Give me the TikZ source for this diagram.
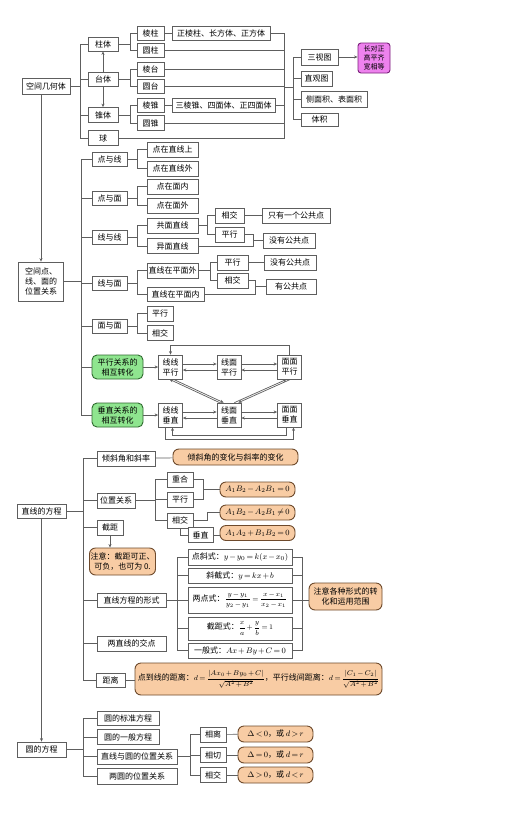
\documentclass[tikz,border=0pt]{standalone}
\usepackage{fontspec}
\newfontfamily\cjk{Noto Sans CJK SC}
\usetikzlibrary{arrows.meta,calc}
\definecolor{lncol}{HTML}{5E5E5E}
\definecolor{orfill}{HTML}{F8CCA4}
\definecolor{ordraw}{HTML}{6E4A2C}
\definecolor{grfill}{HTML}{8FE58F}
\definecolor{grdraw}{HTML}{2F6A2F}
\definecolor{mgfill}{HTML}{EE82EE}
\definecolor{mgdraw}{HTML}{7A207A}
\newcommand\tightmath{\medmuskip=2mu\thickmuskip=3mu\relax}
\tikzset{
 bx/.style={draw=lncol, fill=white, line width=0.7pt, inner sep=1pt, font=\cjk\fontsize{8}{10}\selectfont, align=center, execute at begin node=\tightmath},
 orb/.style={bx, draw=ordraw, fill=orfill, rounded corners=6pt, line width=0.9pt},
 grb/.style={bx, draw=grdraw, fill=grfill, rounded corners=5pt, line width=0.9pt},
 mgb/.style={bx, draw=mgdraw, fill=mgfill, rounded corners=3pt, line width=0.9pt, font=\cjk\fontsize{7}{8.8}\selectfont},
 conn/.style={draw=lncol, line width=0.7pt},
 arr/.style={conn, -{Stealth[length=3.5pt,width=3pt]}},
}
\newcommand\B[6]{\node[#1, minimum width=#4pt, minimum height=#5pt] (#2) at (#3) {#6};}
\newcommand\smallmath{\fontsize{7}{8}\selectfont\tightmath}
\begin{document}
\begin{tikzpicture}[x=1pt,y=-1pt]
\useasboundingbox[fill=white] (0,0) rectangle (509,833);
% ---------- part 1
\B{bx}{g0}{46,86}{48}{16}{空间几何体}
\B{bx}{zt}{103,44}{30}{14}{柱体}
\B{bx}{tt}{103,79}{30}{14}{台体}
\B{bx}{zh}{103,115}{30}{15}{锥体}
\B{bx}{qiu}{103,138}{30}{15}{球}
\B{bx}{lz}{150.5,33}{27}{14}{棱柱}
\B{bx}{yz}{150.5,50.5}{27}{14}{圆柱}
\B{bx}{lt}{150.5,69}{27}{14}{棱台}
\B{bx}{yt}{150.5,86.5}{27}{14}{圆台}
\B{bx}{lzh}{150.5,105}{27}{14}{棱锥}
\B{bx}{yzh}{150.5,123}{27}{15}{圆锥}
\B{bx}{lzx}{221,33}{98}{14}{正棱柱、长方体、正方体}
\B{bx}{lzhx}{223.5,105}{103}{14}{三棱锥、四面体、正四面体}
\B{bx}{sst}{319.5,57}{37}{16}{三视图}
\B{bx}{zgt}{316.5,78.5}{31}{15}{直观图}
\B{bx}{cmj}{334,99}{66}{16}{侧面积、表面积}
\B{bx}{tj}{319.5,119.5}{37}{13}{体积}
\B{mgb}{mg}{374,58}{32}{30}{长对正\\高平齐\\宽相等}
% ---------- part 2
\B{bx}{kj}{41,281.5}{45}{39}{空间点、\\线、面的\\位置关系}
\B{bx}{dyx}{109.5,159.5}{35}{14}{点与线}
\B{bx}{dym}{109.5,198.5}{35}{14}{点与面}
\B{bx}{xyx}{109.5,237}{35}{14}{线与线}
\B{bx}{xym}{109.5,283.5}{35}{14}{线与面}
\B{bx}{mym}{109.5,326}{35}{14}{面与面}
\B{grb}{pxg}{117.5,367}{51}{24}{平行关系的\\相互转化}
\B{grb}{czg}{117.5,415}{51}{24}{垂直关系的\\相互转化}
\B{bx}{a1}{172.5,149.5}{51}{15}{点在直线上}
\B{bx}{a2}{172.5,168.5}{51}{15}{点在直线外}
\B{bx}{a3}{172.5,186.5}{51}{15}{点在面内}
\B{bx}{a4}{172.5,205.5}{51}{15}{点在面外}
\B{bx}{gm}{172.5,225.5}{51}{15}{共面直线}
\B{bx}{ym}{172.5,246}{51}{15}{异面直线}
\B{bx}{xj1}{229.5,215.5}{29}{15}{相交}
\B{bx}{px1}{229.5,234.5}{29}{15}{平行}
\B{bx}{b1}{296,215.5}{68}{15}{只有一个公共点}
\B{bx}{b2}{289,240.5}{52}{15}{没有公共点}
\B{bx}{wai}{172.5,270.5}{51}{15}{直线在平面外}
\B{bx}{nei}{175.5,294}{57}{14}{直线在平面内}
\B{bx}{px2}{232.5,262.5}{31}{15}{平行}
\B{bx}{xj2}{232.5,280.5}{31}{15}{相交}
\B{bx}{b3}{290,262.5}{52}{15}{没有公共点}
\B{bx}{b4}{291,286.5}{50}{15}{有公共点}
\B{bx}{px5}{160,313.5}{26}{15}{平行}
\B{bx}{xj5}{160,333}{26}{15}{相交}
\B{bx}{xxp}{170.5,367}{24}{24}{线线\\平行}
\B{bx}{xmp}{229,367}{24}{24}{线面\\平行}
\B{bx}{mmp}{289.5,367}{24}{24}{面面\\平行}
\B{bx}{xxc}{170.5,415}{24}{24}{线线\\垂直}
\B{bx}{xmc}{229,415}{24}{24}{线面\\垂直}
\B{bx}{mmc}{289.5,415}{24}{24}{面面\\垂直}
% ---------- part 3
\B{bx}{zf}{41.5,511.5}{49}{14}{直线的方程}
\B{bx}{qxj}{126,458.5}{58}{15}{倾斜角和斜率}
\B{orb}{o1}{235.5,457}{125}{16}{倾斜角的变化与斜率的变化}
\B{bx}{wz}{116,500.5}{38}{15}{位置关系}
\B{bx}{jj}{110,527.5}{26}{15}{截距}
\B{orb}{o2}{122.5,561.5}{61}{27}{注意：截距可正、\\可负，也可为 0.}
\B{bx}{chh}{180,479.5}{26}{15}{重合}
\B{bx}{px3}{180,499.5}{26}{15}{平行}
\B{bx}{xj3}{180,520.5}{26}{15}{相交}
\B{bx}{cz}{200.5,535}{25}{15}{垂直}
\B{orb}{o3}{257.5,489.5}{75}{15}{$A_1B_2-A_2B_1=0$}
\B{orb}{o4}{257.5,512.5}{75}{15}{$A_1B_2-A_2B_1\neq0$}
\B{orb}{o5}{257.5,533}{75}{15}{$A_1A_2+B_1B_2=0$}
\B{bx}{xs}{131.5,600}{69}{14}{直线方程的形式}
\B{bx}{jd}{131.5,643.5}{69}{15}{两直线的交点}
\B{bx}{jl}{110.5,680}{29}{14}{距离}
\B{bx}{f1}{240,557}{104}{16}{点斜式：$y-y_0=k(x-x_0)$}
\B{bx}{f2}{240,575.5}{104}{15}{斜截式：$y=kx+b$}
\B{bx}{f3}{240,600}{104}{26}{两点式：{\smallmath$\displaystyle\frac{y-y_1}{y_2-y_1}=\frac{x-x_1}{x_2-x_1}$}}
\B{bx}{f4}{240,628.5}{104}{23}{截距式：{\smallmath$\displaystyle\frac{x}{a}+\frac{y}{b}=1$}}
\B{bx}{f5}{240,650.5}{104}{15}{一般式：$Ax+By+C=0$}
\B{orb}{o6}{345.5,596.5}{73}{27}{注意各种形式的转\\化和运用范围}
\B{orb}{o7}{258.5,679}{247}{32}{点到线的距离：{\smallmath$\displaystyle d=\frac{|Ax_0+By_0+C|}{\sqrt{A^2+B^2}}$}，平行线间距离：{\smallmath$\displaystyle d=\frac{|C_1-C_2|}{\sqrt{A^2+B^2}}$}}
% ---------- part 4
\B{bx}{yf}{41.5,749.5}{49}{15}{圆的方程}
\B{bx}{yb}{128,718}{62}{14}{圆的标准方程}
\B{bx}{yy}{128,737}{62}{15}{圆的一般方程}
\B{bx}{zy}{137,756.5}{80}{15}{直线与圆的位置关系}
\B{bx}{ly}{137,776}{80}{16}{两圆的位置关系}
\B{bx}{lx}{213,734.5}{26}{15}{相离}
\B{bx}{qq}{213,755}{26}{15}{相切}
\B{bx}{xj4}{213,775}{26}{15}{相交}
\B{orb}{o8}{275.5,734}{75}{16}{$\Delta<0$，或 $d>r$}
\B{orb}{o9}{275.5,755}{75}{16}{$\Delta=0$，或 $d=r$}
\B{orb}{o10}{275.5,775}{75}{16}{$\Delta>0$，或 $d<r$}
% ========== connectors part 1
\coordinate (s1) at (80,86);
\draw[conn] (g0.east) -- (s1);
\foreach \t in {zt,tt,zh,qiu} \draw[conn] (\t.west) -| (s1);
\draw[arr] (tt.north) -- (zt.south);
\draw[arr] (tt.south) -- (zh.north);
\coordinate (s2) at (130,44);
\draw[conn] (zt.east) -- (s2);
\foreach \t in {lz,yz} \draw[conn] (\t.west) -| (s2);
\coordinate (s3) at (130,79);
\draw[conn] (tt.east) -- (s3);
\foreach \t in {lt,yt} \draw[conn] (\t.west) -| (s3);
\coordinate (s4) at (130,115);
\draw[conn] (zh.east) -- (s4);
\foreach \t in {lzh,yzh} \draw[conn] (\t.west) -| (s4);
\draw[conn] (lz) -- (lzx);
\draw[conn] (lzh) -- (lzhx);
\coordinate (r1) at (284,87);
\foreach \t in {lzx,yz,lt,yt,lzhx,yzh,qiu} \draw[conn] (\t.east) -| (r1);
\coordinate (r2) at (293,87);
\draw[conn] (r1) -- (r2);
\foreach \t in {sst,zgt,cmj,tj} \draw[conn] (\t.west) -| (r2);
\draw[arr] (sst.east) -- (sst.east -| mg.west);
\draw[arr] (kj.north |- g0.south) -- (kj.north);
% ========== connectors part 2
\coordinate (k1) at (81,281.5);
\draw[conn] (kj.east) -- (k1);
\foreach \t in {dyx,dym,xyx,xym,mym,pxg,czg} \draw[conn] (\t.west) -| (k1);
\coordinate (p1) at (137,159.5);
\draw[conn] (dyx.east) -- (p1);
\foreach \t in {a1,a2} \draw[conn] (\t.west) -| (p1);
\coordinate (p2) at (137,198.5);
\draw[conn] (dym.east) -- (p2);
\foreach \t in {a3,a4} \draw[conn] (\t.west) -| (p2);
\coordinate (p3) at (137,237);
\draw[conn] (xyx.east) -- (p3);
\foreach \t in {gm,ym} \draw[conn] (\t.west) -| (p3);
\coordinate (p4) at (137,283.5);
\draw[conn] (xym.east) -- (p4);
\foreach \t in {wai,nei} \draw[conn] (\t.west) -| (p4);
\coordinate (p5) at (137,326);
\draw[conn] (mym.east) -- (p5);
\foreach \t in {px5,xj5} \draw[conn] (\t.west) -| (p5);
\coordinate (p6) at (207,225.5);
\draw[conn] (gm.east) -- (p6);
\foreach \t in {xj1,px1} \draw[conn] (\t.west) -| (p6);
\draw[conn] (xj1) -- (b1);
\coordinate (m1) at (253,240.5);
\foreach \t in {px1,ym} \draw[conn] (\t.east) -| (m1);
\draw[conn] (m1) -- (b2.west);
\coordinate (p7) at (210,270.5);
\draw[conn] (wai.east) -- (p7);
\foreach \t in {px2,xj2} \draw[conn] (\t.west) -| (p7);
\draw[conn] (px2) -- (b3);
\coordinate (m2) at (255,286.5);
\foreach \t in {xj2,nei} \draw[conn] (\t.east) -| (m2);
\draw[conn] (m2) -- (b4.west);
% transformations
\draw[arr] (pxg) -- (xxp);
\draw[arr] (czg) -- (xxc);
\draw[arr] ($(xxp.east)+(0,-3)$) -- ($(xmp.west)+(0,-3)$);
\draw[arr] ($(xmp.west)+(0,3)$) -- ($(xxp.east)+(0,3)$);
\draw[arr] ($(xmp.east)+(0,-3)$) -- ($(mmp.west)+(0,-3)$);
\draw[arr] ($(mmp.west)+(0,3)$) -- ($(xmp.east)+(0,3)$);
\draw[arr] ($(xxc.east)+(0,-3)$) -- ($(xmc.west)+(0,-3)$);
\draw[arr] ($(xmc.west)+(0,3)$) -- ($(xxc.east)+(0,3)$);
\draw[arr] ($(xmc.east)+(0,-3)$) -- ($(mmc.west)+(0,-3)$);
\draw[arr] ($(mmc.west)+(0,3)$) -- ($(xmc.east)+(0,3)$);
\draw[arr] (mmp.north) -- ++(0,-9) -| (xxp.north);
\draw[arr] ($(xxc.south)+(-5,0)$) -- ++(0,12) -| ($(mmc.south)+(4,0)$);
\draw[arr] ($(mmc.south)+(-3,0)$) -- ++(0,8) -| ($(xxc.south)+(2,0)$);
\draw[arr] ($(xmc.north west)+(3,0)$) -- ($(xxp.south)+(-1,0)$);
\draw[arr] ($(xxp.south)+(3,0)$) -- ($(xmc.north west)+(7,0)$);
\draw[arr] ($(xmc.north east)+(-7,0)$) -- ($(mmp.south)+(-3,0)$);
\draw[arr] ($(mmp.south)+(1,0)$) -- ($(xmc.north east)+(-3,0)$);
% ========== connectors part 3
\coordinate (k2) at (83,511.5);
\draw[conn] (zf.east) -- (k2);
\foreach \t in {qxj,wz,jj,xs,jd,jl} \draw[conn] (\t.west) -| (k2);
\draw[conn] (qxj) -- (o1);
\coordinate (p8) at (155,500.5);
\draw[conn] (wz.east) -- (p8);
\foreach \t in {chh,px3,xj3} \draw[conn] (\t.west) -| (p8);
\coordinate (m3) at (203,489.5);
\foreach \t in {chh,px3} \draw[conn] (\t.east) -| (m3);
\draw[conn] (m3) -- (o3.west);
\coordinate (m4) at (207,512.5);
\draw[conn] (xj3.east) -| (m4) -- (o4.west);
\draw[conn] (xj3.south) |- (cz.west);
\draw[conn] (cz.east) -- (cz.east -| o5.west);
\draw[arr] (jj.south) -- (jj.south |- o2.north);
\coordinate (p9) at (177,600);
\draw[conn] (xs.east) -- (p9);
\foreach \t in {f1,f2,f3,f4,f5} \draw[conn] (\t.west) -| (p9);
\coordinate (m5) at (302,600);
\foreach \t in {f1,f2,f3,f4,f5} \draw[conn] (\t.east) -| (m5);
\draw[conn] (m5) -- (m5 -| o6.west);
\draw[conn] (jl.east) -- (jl.east -| o7.west);
% ========== connectors part 4
\draw[arr] (zf) -- (yf);
\coordinate (k3) at (83,749.5);
\draw[conn] (yf.east) -- (k3);
\foreach \t in {yb,yy,zy,ly} \draw[conn] (\t.west) -| (k3);
\coordinate (p10) at (190,756.5);
\draw[conn] (zy.east) -- (p10);
\foreach \t in {lx,qq,xj4} \draw[conn] (\t.west) -| (p10);
\draw[conn] (lx) -- (o8);
\draw[conn] (qq) -- (o9);
\draw[conn] (xj4) -- (o10);
\end{tikzpicture}
\end{document}
